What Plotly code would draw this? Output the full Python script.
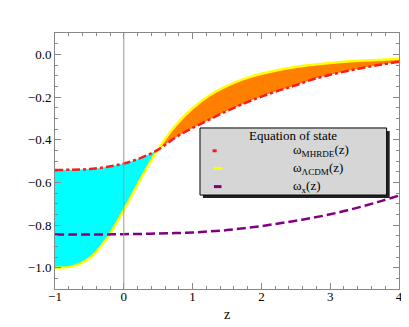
import plotly.graph_objects as go

# redshift grid
z = [-1.0, -0.75, -0.5, -0.25, 0.0, 0.25, 0.5, 0.75, 1.0, 1.25, 1.5, 1.75,
     2.0, 2.25, 2.5, 2.75, 3.0, 3.25, 3.5, 3.75, 4.0]

w_mhrde = [-0.542, -0.541, -0.538, -0.528, -0.512, -0.485, -0.447, -0.39,
           -0.345, -0.305, -0.265, -0.23, -0.198, -0.17, -0.145, -0.117,
           -0.096, -0.078, -0.062, -0.048, -0.035]
w_lcdm = [-1.0, -0.994, -0.956, -0.865, -0.73, -0.581, -0.445, -0.335,
          -0.253, -0.192, -0.148, -0.115, -0.091, -0.073, -0.059, -0.049,
          -0.041, -0.034, -0.029, -0.025, -0.021]
w_x = [-0.845, -0.845, -0.845, -0.844, -0.843, -0.842, -0.84, -0.838,
       -0.835, -0.83, -0.824, -0.815, -0.805, -0.793, -0.78, -0.766,
       -0.75, -0.731, -0.71, -0.687, -0.662]

legend_names = ["ω<sub>MHRDE</sub>(z)", "ω<sub>ΛCDM</sub>(z)", "ω<sub>x</sub>(z)"]
x_ticks = [-1, 0, 1, 2, 3, 4]
y_ticks = [-1.0, -0.8, -0.6, -0.4, -0.2, 0.0]

RED = "#ff1a1a"
YELLOW = "#ffff00"
PURPLE = "#800080"
FONT = "Liberation Serif"

cross = z.index(0.5)

fig = go.Figure()

# shaded regions between MHRDE and LCDM
for sl, color in [(slice(0, cross + 1), "#00ffff"), (slice(cross, None), "#ff8000")]:
    fig.add_trace(go.Scatter(x=z[sl], y=w_mhrde[sl], mode="lines",
                             line=dict(width=0, shape="spline"),
                             showlegend=False, hoverinfo="skip"))
    fig.add_trace(go.Scatter(x=z[sl], y=w_lcdm[sl], mode="lines", fill="tonexty",
                             fillcolor=color, line=dict(width=0, shape="spline"),
                             showlegend=False, hoverinfo="skip"))

fig.add_vline(x=0, line_color="#999999", line_width=1, layer="above")

fig.add_trace(go.Scatter(x=z, y=w_lcdm, mode="lines", name=legend_names[1],
                         line=dict(color=YELLOW, width=2.5, shape="spline")))
fig.add_trace(go.Scatter(x=z, y=w_mhrde, mode="lines", name=legend_names[0],
                         line=dict(color=RED, width=2.5, dash="8px,3px,3px,3px",
                                   shape="spline")))
fig.add_trace(go.Scatter(x=z, y=w_x, mode="lines", name=legend_names[2],
                         line=dict(color=PURPLE, width=2.5, dash="9px,4px",
                                   shape="spline")))

# hand-drawn legend box with shadow
fig.add_shape(type="rect", xref="paper", yref="paper", x0=0.43, x1=0.973,
              y0=0.355, y1=0.617, fillcolor="#222222", line_width=0)
fig.add_shape(type="rect", xref="paper", yref="paper", x0=0.4215, x1=0.964,
              y0=0.367, y1=0.629, fillcolor="#d6d6d6",
              line=dict(color="#000000", width=1))
fig.add_annotation(xref="paper", yref="paper", x=0.692, y=0.598, xanchor="center",
                   text="Equation of state", showarrow=False,
                   font=dict(family=FONT, size=13, color="black"))
rows = [(0.540, RED, 0.458, 0.47), (0.471, YELLOW, 0.462, 0.487),
        (0.400, PURPLE, 0.462, 0.484)]
for name, (yy, col, xa, xb) in zip(legend_names, rows):
    fig.add_shape(type="line", xref="paper", yref="paper", x0=xa, x1=xb,
                  y0=yy, y1=yy, line=dict(color=col, width=3))
    fig.add_annotation(xref="paper", yref="paper", x=0.685, y=yy, xanchor="left",
                       text=name, showarrow=False,
                       font=dict(family=FONT, size=13, color="black"))

axis_common = dict(
    showgrid=False, zeroline=False, showline=True, linecolor="#888888",
    linewidth=1, mirror="allticks", ticks="inside", ticklen=6,
    tickcolor="#888888", automargin=False,
    tickfont=dict(family=FONT, size=13, color="black"),
)
fig.update_xaxes(range=[-1, 4], tickvals=x_ticks,
                 ticktext=[str(v).replace("-", "−") for v in x_ticks],
                 minor=dict(dtick=0.2, ticks="inside", ticklen=3,
                            tickcolor="#888888"),
                 ticklabelstandoff=-5,
                 title=dict(text="z", font=dict(family=FONT, size=14, color="black"),
                            standoff=6),
                 **axis_common)
fig.update_yaxes(range=[-1.1, 0.1], tickvals=y_ticks,
                 ticktext=[f"{v:.1f}".replace("-", "−") for v in y_ticks],
                 minor=dict(dtick=0.05, ticks="inside", ticklen=3,
                            tickcolor="#888888"),
                 **axis_common)

# page body adds an 8px offset, so the figure is kept 8px smaller
fig.update_layout(
    width=401, height=319,
    margin=dict(l=47, r=10, t=25, b=38),
    paper_bgcolor="white", plot_bgcolor="white",
    showlegend=False,
    font=dict(family=FONT, color="black"),
)

fig.write_html("out.html")
